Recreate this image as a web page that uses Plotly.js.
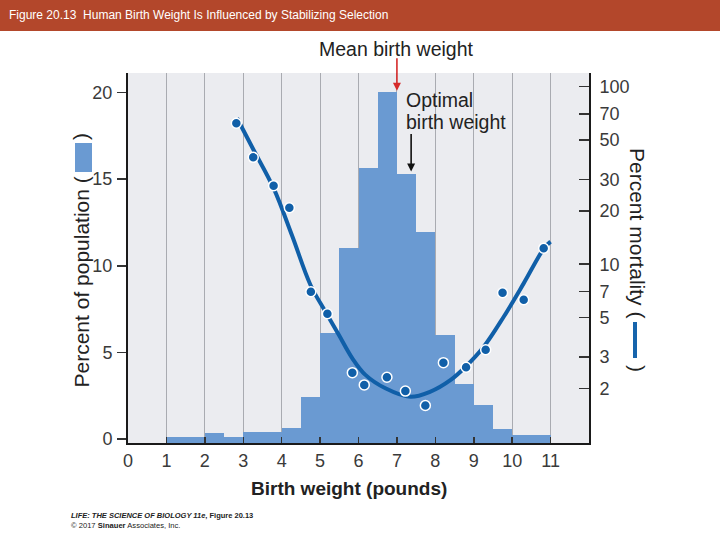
<!DOCTYPE html>
<html>
<head>
<meta charset="utf-8">
<script src="https://cdn.plot.ly/plotly-3.0.1.min.js"></script>
<style>
  html, body { margin: 0; padding: 0; background: #ffffff; }
  #chart { width: 720px; height: 540px; }
</style>
</head>
<body>
<div id="chart"></div>
<script>
// ---- Data ----
// Histogram: percent of population per 0.5-lb bin (bin start in pounds)
const binStarts = [1, 1.5, 2, 2.5, 3, 3.5, 4, 4.5, 5, 5.5, 6, 6.5, 7, 7.5, 8, 8.5, 9, 9.5, 10, 10.5];
const percentPopulation = [0.1, 0.14, 0.33, 0.12, 0.4, 0.4, 0.62, 2.44, 6.1, 11.05, 15.67, 20.05, 15.3, 11.93, 6.0, 3.18, 1.96, 0.56, 0.21, 0.21];

// Observed percent mortality (dots)
const mortalityWeight = [2.82, 3.26, 3.79, 4.20, 4.76, 5.19, 5.84, 6.15, 6.74, 7.22, 7.74, 8.21, 8.80, 9.31, 9.75, 10.30, 10.82];
const mortalityPercent = [62.2, 40.0, 27.7, 20.8, 7.0, 5.26, 2.45, 2.09, 2.31, 1.93, 1.60, 2.79, 2.63, 3.30, 6.91, 6.31, 12.3];

// Fitted mortality curve (traced)
const fitWeight = [2.84, 3.27, 3.79, 4.27, 4.75, 5.14, 5.49, 5.84, 6.18, 6.70, 7.35, 7.86, 8.40, 8.79, 9.26, 9.78, 10.30, 10.83, 11.0];
const fitMortality = [66.4, 44.0, 26.8, 14.5, 7.64, 5.40, 3.99, 2.95, 2.38, 2.00, 1.79, 1.91, 2.23, 2.65, 3.43, 5.06, 7.80, 12.3, 13.4];

// Tick labels
const xTicks = [0, 1, 2, 3, 4, 5, 6, 7, 8, 9, 10, 11];
const leftTicks = [0, 5, 10, 15, 20];
const rightTicks = [2, 3, 5, 7, 10, 20, 30, 50, 70, 100];
const rightTickText = ['2', '3', '5', '7', '10', '20', '30', '50', '70', '100'];

// Text
const figTitle = 'Figure 20.13  Human Birth Weight Is Influenced by Stabilizing Selection';
const xTitle = 'Birth weight (pounds)';

// ---- Styling ----
const FONT = '"Liberation Sans", Arial, Helvetica, sans-serif';
const NARROW = '"Liberation Sans Narrow", "Arial Narrow", "Liberation Sans", Arial, sans-serif';
const barColor = '#6A9AD2';
const curveColor = '#105FA8';
const leftRange = [-0.23, 21.13];

const traces = [
  {
    type: 'bar',
    x: binStarts,
    y: percentPopulation.map(v => v - leftRange[0]),
    base: leftRange[0],
    width: 0.5,
    offset: 0,
    marker: { color: barColor, line: { width: 0 } },
    xaxis: 'x', yaxis: 'y',
    hoverinfo: 'skip'
  },
  {
    type: 'scatter',
    mode: 'lines',
    x: fitWeight,
    y: fitMortality,
    line: { color: curveColor, width: 4, shape: 'spline', smoothing: 1 },
    xaxis: 'x', yaxis: 'y2'
  },
  {
    type: 'scatter',
    mode: 'markers',
    x: mortalityWeight,
    y: mortalityPercent,
    marker: { color: curveColor, size: 10, line: { color: '#ffffff', width: 1.5 } },
    xaxis: 'x', yaxis: 'y2'
  }
];

// paper coordinate helpers (plot area: x 128..589 px, y 73..443 px)
const L = 128, W = 461, T = 73, H = 370;
const px = v => (v - L) / W;
const py = v => (T + H - v) / H;

const titleFont = { size: 21, color: '#222222' };

const layout = {
  width: 720, height: 540,
  margin: { l: L, r: 720 - L - W, t: T, b: 540 - T - H, pad: 0 },
  paper_bgcolor: '#ffffff',
  plot_bgcolor: '#EBECF0',
  showlegend: false,
  bargap: 0,
  font: { family: FONT, color: '#333333', size: 18 },
  xaxis: {
    range: [0, 12],
    tickmode: 'array', tickvals: xTicks,
    ticks: 'inside', ticklen: 6, tickwidth: 1.5, tickcolor: '#333333',
    showgrid: true, gridcolor: '#A9ABB1', gridwidth: 1,
    showline: true, linecolor: '#1a1a1a', linewidth: 2,
    zeroline: false,
    tickfont: { size: 18, color: '#3a3a3a' },
    ticklabelstandoff: 0
  },
  yaxis: {
    range: leftRange,
    tickmode: 'array', tickvals: leftTicks,
    ticks: 'outside', ticklen: 9, tickwidth: 1.5, tickcolor: '#333333',
    showgrid: false, zeroline: false,
    showline: true, linecolor: '#1a1a1a', linewidth: 2,
    tickfont: { size: 18, color: '#3a3a3a' },
    ticklabelstandoff: 1
  },
  yaxis2: {
    type: 'log',
    overlaying: 'y', side: 'right',
    range: [-0.007, 2.077],
    tickmode: 'array', tickvals: rightTicks, ticktext: rightTickText,
    ticks: 'inside', ticklen: 10, tickwidth: 1.5, tickcolor: '#333333',
    showgrid: false, zeroline: false,
    showline: true, linecolor: '#1a1a1a', linewidth: 2,
    tickfont: { size: 18, color: '#3a3a3a' },
    ticklabelstandoff: 5
  },
  shapes: [
    // title banner
    { type: 'rect', xref: 'paper', yref: 'paper', x0: px(0), x1: px(720), y0: py(31), y1: py(0),
      fillcolor: '#B3472B', line: { width: 0 }, layer: 'above' },
    // left legend swatch (bar)
    { type: 'rect', xref: 'paper', yref: 'paper', x0: px(75), x1: px(92), y0: py(172), y1: py(143),
      fillcolor: barColor, line: { width: 0 } },
    // right legend swatch (line)
    { type: 'line', xref: 'paper', yref: 'paper', x0: px(635), x1: px(635), y0: py(358), y1: py(322),
      line: { color: '#1664AC', width: 4 } }
  ],
  annotations: [
    { text: figTitle, xref: 'paper', yref: 'paper', x: px(7), y: py(15.5), xanchor: 'left', yanchor: 'middle',
      showarrow: false, font: { family: NARROW, size: 12, color: '#ffffff' } },
    { text: 'Mean birth weight', xref: 'paper', yref: 'paper', x: px(395.5), y: py(49), xanchor: 'center', yanchor: 'middle',
      showarrow: false, font: { size: 19.5, color: '#222222' } },
    { text: '', xref: 'x', yref: 'y', x: 7, y: 20.1, ax: 0, ay: -34,
      showarrow: true, arrowhead: 2, arrowsize: 1, arrowwidth: 1.6, arrowcolor: '#D62B2B' },
    { text: 'Optimal', xref: 'paper', yref: 'paper', x: px(404), y: py(100), xanchor: 'left', yanchor: 'middle',
      showarrow: false, font: { size: 19.5, color: '#222222' } },
    { text: 'birth weight', xref: 'paper', yref: 'paper', x: px(404), y: py(122), xanchor: 'left', yanchor: 'middle',
      showarrow: false, font: { size: 19.5, color: '#222222' } },
    { text: '', xref: 'x', yref: 'y', x: 7.37, y: 15.45, ax: 0, ay: -39,
      showarrow: true, arrowhead: 2, arrowsize: 1, arrowwidth: 1.6, arrowcolor: '#111111' },
    // left axis title
    { text: 'Percent of population (', textangle: -90, xref: 'paper', yref: 'paper', x: px(80.5), y: py(282),
      xanchor: 'center', yanchor: 'middle', showarrow: false, font: titleFont },
    { text: ')', textangle: -90, xref: 'paper', yref: 'paper', x: px(80.5), y: py(136.5),
      xanchor: 'center', yanchor: 'middle', showarrow: false, font: titleFont },
    // right axis title
    { text: 'Percent mortality (', textangle: 90, xref: 'paper', yref: 'paper', x: px(638), y: py(233),
      xanchor: 'center', yanchor: 'middle', showarrow: false, font: titleFont },
    { text: ')', textangle: 90, xref: 'paper', yref: 'paper', x: px(638), y: py(368),
      xanchor: 'center', yanchor: 'middle', showarrow: false, font: titleFont },
    // x axis title
    { text: '<b>' + xTitle + '</b>', xref: 'paper', yref: 'paper', x: px(348.5), y: py(488),
      xanchor: 'center', yanchor: 'middle', showarrow: false, font: { size: 19, color: '#222222' } },
    // credits
    { text: '<b><i>LIFE: THE SCIENCE OF BIOLOGY 11e</i>, Figure 20.13</b>', xref: 'paper', yref: 'paper',
      x: px(69), y: py(515), xanchor: 'left', yanchor: 'middle', showarrow: false,
      font: { family: NARROW, size: 7.5, color: '#222222' } },
    { text: '© 2017 <b>Sinauer</b> Associates, Inc.', xref: 'paper', yref: 'paper',
      x: px(69), y: py(525), xanchor: 'left', yanchor: 'middle', showarrow: false,
      font: { family: NARROW, size: 7.6, color: '#222222' } }
  ]
};

Plotly.newPlot('chart', traces, layout, { staticPlot: true, displayModeBar: false });
</script>
</body>
</html>
